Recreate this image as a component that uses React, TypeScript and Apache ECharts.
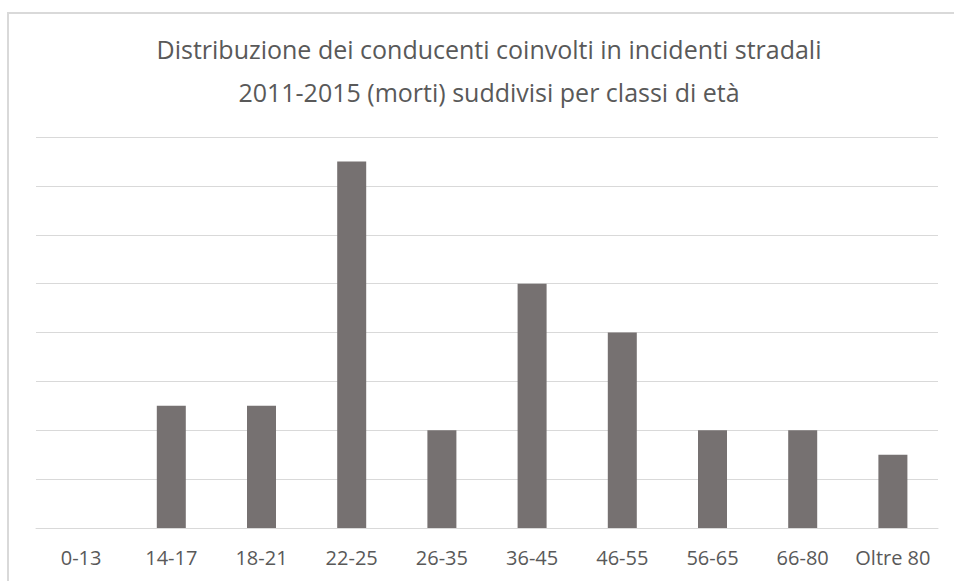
import React, { useEffect, useRef } from "react";
import * as echarts from "echarts";

const titleLines = [
  "Distribuzione dei conducenti coinvolti in incidenti stradali",
  "2011-2015 (morti) suddivisi per classi di età",
];
const categories = ["0-13", "14-17", "18-21", "22-25", "26-35", "36-45", "46-55", "56-65", "66-80", "Oltre 80"];
const values = [0, 2.5, 2.5, 7.5, 2, 5, 4, 2, 2, 1.5];

export default function App() {
  const ref = useRef<HTMLDivElement>(null);
  useEffect(() => {
    if (!ref.current) return;
    const chart = echarts.init(ref.current, null, { renderer: "svg" });
    chart.setOption({
      animation: false,
      backgroundColor: "#ffffff",
      textStyle: { fontFamily: "Open Sans" },
      title: {
        text: titleLines.join("\n"),
        left: 484,
        top: 22,
        textAlign: "center",
        textStyle: {
          fontFamily: "Open Sans",
          fontSize: 25,
          fontWeight: "normal",
          color: "#595959",
          lineHeight: 43,
        },
      },
      graphic: [
        {
          type: "rect",
          shape: { x: 8, y: 13, width: 1000, height: 700 },
          style: { fill: "none", stroke: "#d9d9d9", lineWidth: 2 },
          silent: true,
        },
      ],
      grid: { left: 36, right: 16, top: 137, bottom: 53, containLabel: false },
      xAxis: {
        type: "category",
        data: categories,
        axisLine: { lineStyle: { color: "#d9d9d9", width: 1 } },
        axisTick: { show: false },
        axisLabel: {
          color: "#595959",
          fontSize: 20,
          margin: 19,
          interval: 0,
          hideOverlap: false,
          fontFamily: "Open Sans",
        },
      },
      yAxis: {
        type: "value",
        min: 0,
        max: 8,
        interval: 1,
        axisLabel: { show: false },
        axisLine: { show: false },
        axisTick: { show: false },
        splitLine: { lineStyle: { color: "#d9d9d9", width: 1 } },
      },
      series: [
        {
          type: "bar",
          data: values,
          barWidth: 29,
          itemStyle: { color: "#767171" },
        },
      ],
    });
    return () => chart.dispose();
  }, []);
  return (
    <div
      ref={ref}
      style={{ position: "fixed", left: 0, top: 0, width: 954, height: 581 }}
    />
  );
}
